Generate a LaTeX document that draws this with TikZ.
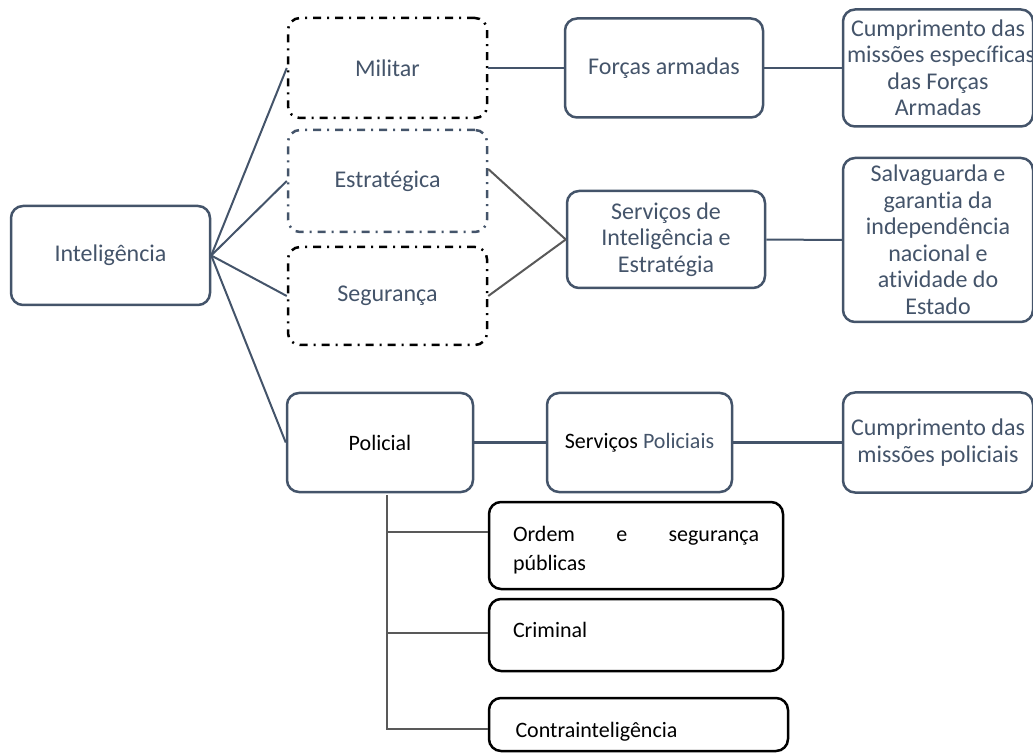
\documentclass[tikz,border=0pt]{standalone}
\usepackage{fontspec}
\setmainfont{Carlito}[Ligatures=NoCommon]
\definecolor{slate}{HTML}{44546A}
\definecolor{edgegray}{HTML}{595959}
\tikzstyle{box}=[draw=slate, line width=1.25pt, rounded corners=6pt, text=slate, align=flush center, inner sep=2pt, font=\fontsize{12}{13.25}\selectfont]
\tikzstyle{dotbox}=[box, draw=black, dash pattern=on 4pt off 3pt on 1pt off 3pt]
\tikzstyle{leafbox}=[box, draw=black, text=black, align=left, text width=123pt, inner xsep=12pt, font=\fontsize{11}{14.5}\selectfont]
\tikzstyle{link}=[draw=slate, line width=1pt]
\tikzstyle{branch}=[draw=edgegray, line width=1pt]

\begin{document}
\begin{tikzpicture}[x=0.5pt, y=-0.5pt]
				\useasboundingbox (0,0) rectangle (1033,753);

				\node[box, minimum width=99.5pt, minimum height=49.5pt] (intel) at (110.5,255.5) {Inteligência};

				\node[dotbox, minimum width=99.5pt, minimum height=50pt] (militar) at (387.5,68) {Militar};
				\node[dotbox, draw=slate, minimum width=99.5pt, minimum height=51pt] (estrat) at (387.5,181) {Estratégica};
				\node[dotbox, minimum width=99.5pt, minimum height=49pt] (segur) at (387.5,296) {Segurança};
				\node[box, text=black, minimum width=93pt, minimum height=49.5pt, font=\fontsize{11}{13.25}\selectfont] (policial) at (380,442.5) {Policial};

				\node[box, minimum width=99pt, minimum height=49.5pt] (forcas) at (664,68) {Forças armadas};
				\node[box, minimum width=99pt, minimum height=48.5pt] (servest) at (666,239.5) {Serviços de\\Inteligência e\\Estratégia};
				\node[box, text=black, minimum width=92.5pt, minimum height=49.5pt, font=\fontsize{11}{13.25}\selectfont] (servpol) at (639.5,442.5) {Serviços \textcolor{slate}{Policiais}};

				\node[box, text width=91pt, minimum height=58.5pt] (cumpr) at (938,68) {Cumprimento das\\\mbox{missões específicas}\\das Forças\\Armadas};
				\node[box, minimum width=95pt, minimum height=82pt] (salva) at (938,240) {Salvaguarda e\\garantia da\\independência\\nacional e\\atividade do\\Estado};
				\node[box, minimum width=95pt, minimum height=50pt] (cumprpol) at (938,442.5) {Cumprimento das\\missões policiais};

				\node[leafbox, minimum height=43.5pt, text height=12pt] (ordem) at (636,545.5) {Ordem \hfill e \hfill segurança\\públicas};
				\node[leafbox, minimum height=36pt, text depth=5pt] (criminal) at (636,635) {Criminal};
				\node[leafbox, minimum width=149.5pt, minimum height=26.5pt, text height=13pt, text depth=0pt] (contra) at (638.5,724.5) {Contrainteligência};

				\draw[link] (intel.east) -- (militar.west);
				\draw[link] (intel.east) -- (estrat.west);
				\draw[link] (intel.east) -- (segur.west);
				\draw[link] (intel.east) -- (policial.west);

				\draw[link] (militar) -- (forcas);
				\draw[link] (forcas) -- (cumpr);
				\draw[branch] ([yshift=6pt]estrat.east) -- (servest.west);
				\draw[branch] (segur.east) -- (servest.west);
				\draw[link] (servest) -- (salva);
				\draw[link] (policial) -- (servpol);
				\draw[link] (servpol) -- (cumprpol);

				\coordinate (trunk) at (387,495);
				\draw[branch] (trunk) |- (contra.west |- 0,729);
				\draw[branch] (trunk |- 0,532) -- (ordem.west |- 0,532);
				\draw[branch] (trunk |- 0,633) -- (criminal.west |- 0,633);
			\end{tikzpicture}
\end{document}
